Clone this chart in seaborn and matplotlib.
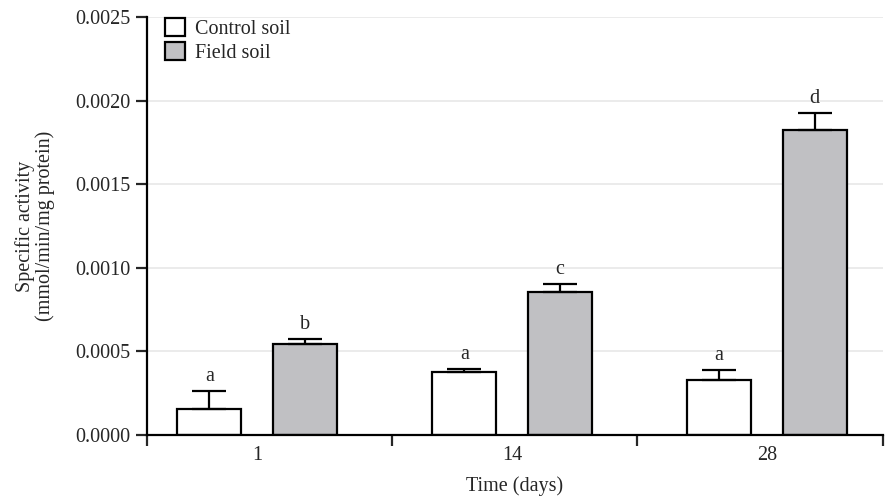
import pandas as pd
import seaborn as sns
import matplotlib.pyplot as plt
import numpy as np

# Data
days = ['1', '14', '28']
control = [0.000155, 0.000377, 0.000329]
field = [0.000544, 0.000855, 0.001824]
control_err = [0.00011, 0.00002, 0.00006]
field_err = [0.00003, 0.00005, 0.0001]
control_letters = ['a', 'a', 'a']
field_letters = ['b', 'c', 'd']

df = pd.DataFrame({
    'day': days * 2,
    'soil': ['Control soil'] * 3 + ['Field soil'] * 3,
    'value': control + field,
})
errs = control_err + field_err
letters = control_letters + field_letters

sns.set_style('white')
plt.rcParams['font.family'] = ['Liberation Serif', 'DejaVu Serif']
FS = 14.5

fig = plt.figure(figsize=(8.89, 5), dpi=100)
ax = fig.add_axes([0.165, 0.13, 0.828, 0.836])

sns.barplot(data=df, x='day', y='value', hue='soil', order=days,
            hue_order=['Control soil', 'Field soil'],
            palette={'Control soil': 'white', 'Field soil': '#bfc0c3'},
            edgecolor='black', linewidth=1.6, width=0.75, gap=0.33,
            errorbar=None, ax=ax)

# error bars (upper only) and letters, placed on the bars seaborn drew
bars = [p for p in ax.patches if p.get_height() > 0]
bars = sorted(bars, key=lambda p: (p.get_facecolor()[0] < 0.9, p.get_x()))
for p, e, lab in zip(bars, errs, letters):
    xc = p.get_x() + p.get_width() / 2
    h = p.get_height()
    ax.errorbar(xc, h, yerr=[[0], [e]], fmt='none', ecolor='black',
                elinewidth=1.6, capsize=12, capthick=1.6, zorder=1)
    ax.text(xc, h + e + 0.00003, lab, ha='center', va='bottom', fontsize=FS)

ax.set_ylim(0, 0.0025)
xlim = (-0.434, 2.455)
ax.set_xlim(*xlim)
yt = np.arange(0, 0.00251, 0.0005)
ax.set_yticks(yt)
ax.set_yticklabels([f'{v:.4f}' for v in yt])
ax.yaxis.grid(True, color='#e8e8e8', linewidth=1.2)
ax.set_axisbelow(True)

ax.set_xticks([0, 1, 2])
ax.set_xticks(np.linspace(xlim[0], xlim[1], 4), minor=True)
ax.tick_params(axis='x', which='major', length=0, labelsize=FS, pad=8)
ax.tick_params(axis='x', which='minor', direction='out', length=8, width=1.6,
               bottom=True)
ax.tick_params(axis='y', direction='out', length=8, width=1.6, left=True,
               labelsize=FS, pad=4)

for s in ['top', 'right']:
    ax.spines[s].set_visible(False)
for s in ['left', 'bottom']:
    ax.spines[s].set_linewidth(1.6)
    ax.spines[s].set_color('black')

ax.set_xlabel('Time (days)', fontsize=FS, labelpad=8)
ax.set_ylabel('Specific activity\n(mmol/min/mg protein)', fontsize=FS,
              labelpad=14, linespacing=1.05)

leg = ax.legend(loc='upper left', bbox_to_anchor=(0.0, 1.04), frameon=False,
                fontsize=FS, handlelength=1.0, handleheight=1.0,
                handletextpad=0.5, labelspacing=0.15)
for h in leg.legend_handles:
    h.set_edgecolor('black')
    h.set_linewidth(1.6)

fig.savefig('out.png', dpi=100)
